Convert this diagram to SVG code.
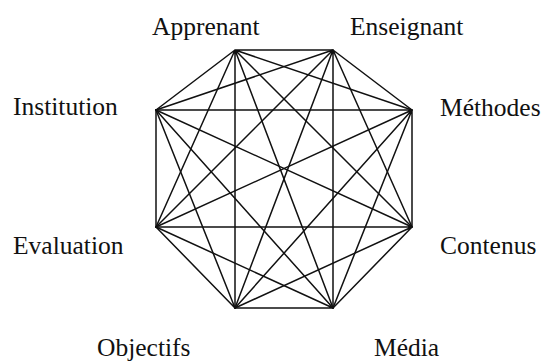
<svg xmlns="http://www.w3.org/2000/svg" width="545" height="363" viewBox="0 0 545 363">
<style>
text{font-family:"Liberation Serif","Times New Roman",serif;font-size:25.5px;fill:#111}
.e{stroke:#111;stroke-width:1.5;fill:none;stroke-linecap:round}
</style>
<rect width="545" height="363" fill="#fff"/>
<g id="connectors" class="e">
<path d="M235,50L333,50M235,50L412,110M235,50L412,227M235,50L333,308M235,50L235,308M235,50L156,227M235,50L156,110"/>
<path d="M333,50L412,110M333,50L412,227M333,50L333,308M333,50L235,308M333,50L156,227M333,50L156,110"/>
<path d="M412,110L412,227M412,110L333,308M412,110L235,308M412,110L156,227M412,110L156,110"/>
<path d="M412,227L333,308M412,227L235,308M412,227L156,227M412,227L156,110"/>
<path d="M333,308L235,308M333,308L156,227M333,308L156,110"/>
<path d="M235,308L156,227M235,308L156,110"/>
<path d="M156,227L156,110"/>
</g>
<g id="apprenant"><text x="152" y="35">Apprenant</text></g>
<g id="enseignant"><text x="350" y="35">Enseignant</text></g>
<g id="methodes"><text x="440" y="116">Méthodes</text></g>
<g id="contenus"><text x="440" y="254">Contenus</text></g>
<g id="media"><text x="374" y="356">Média</text></g>
<g id="objectifs"><text x="97" y="356">Objectifs</text></g>
<g id="evaluation"><text x="13" y="254">Evaluation</text></g>
<g id="institution"><text x="13" y="115">Institution</text></g>
</svg>
